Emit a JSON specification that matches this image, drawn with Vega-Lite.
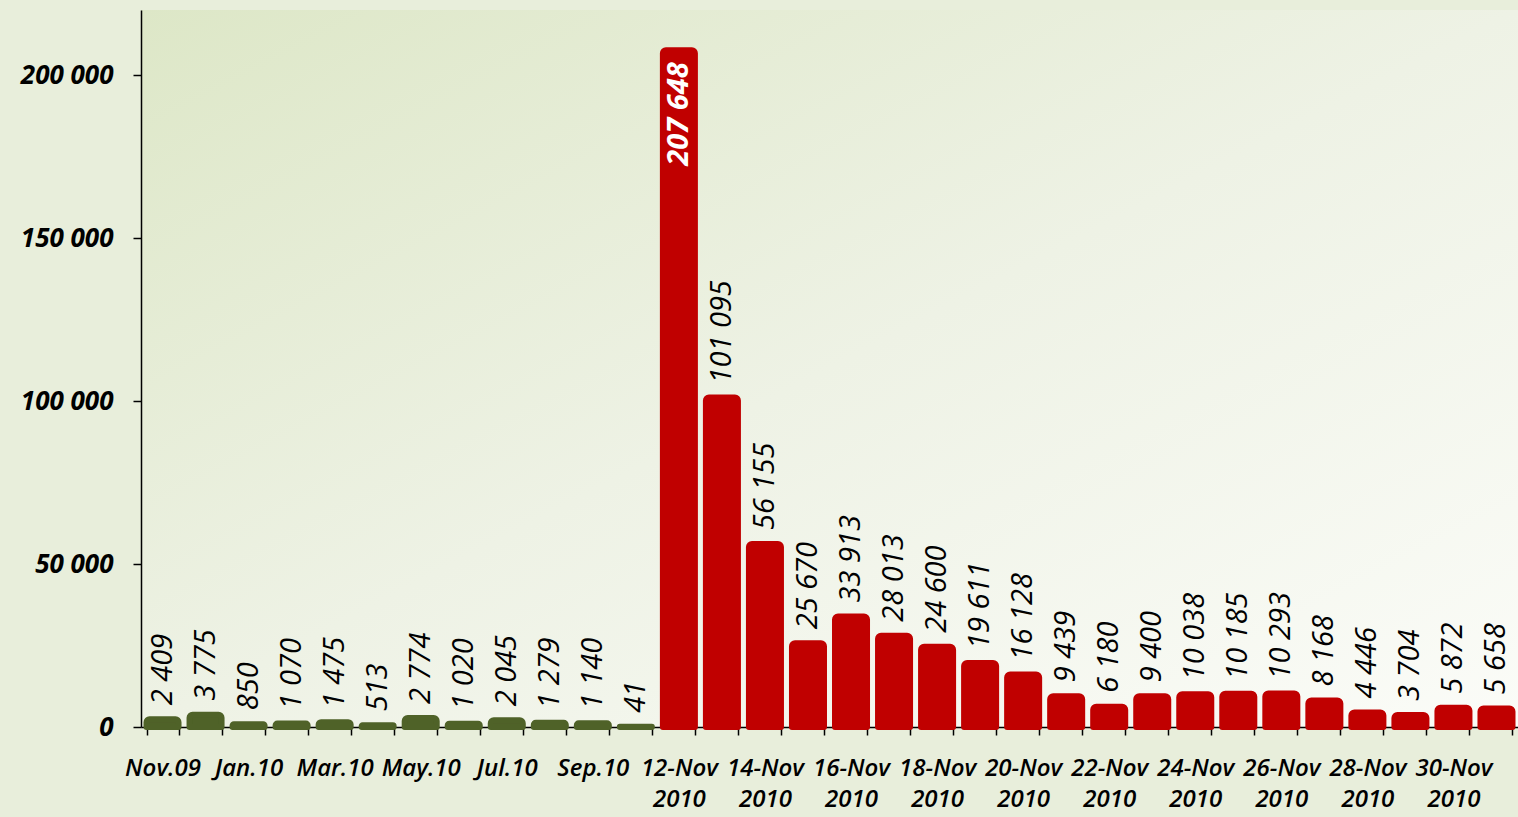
{
  "$schema": "https://vega.github.io/schema/vega-lite/v6.json",
  "width": 1377,
  "height": 717,
  "autosize": {"type": "none"},
  "padding": {"left": 141, "top": 10, "right": 0, "bottom": 90},
  "background": "#e8eedb",
  "config": {
    "locale": {"number": {"decimal": ",", "thousands": " ", "grouping": [3], "currency": ["", ""]}},
    "view": {"stroke": null, "fill": {"gradient": "linear", "x1": 0, "y1": 0, "x2": 1, "y2": 1, "stops": [{"offset": 0, "color": "#dde7c7"}, {"offset": 0.5, "color": "#eef2e5"}, {"offset": 1, "color": "#fbfcf8"}]}},
    "font": "Open Sans"
  },
  "data": {"values": [
    {"period": "Nov.09", "value": 2409, "phase": "before"},
    {"period": "Dec.09", "value": 3775, "phase": "before"},
    {"period": "Jan.10", "value": 850, "phase": "before"},
    {"period": "Feb.10", "value": 1070, "phase": "before"},
    {"period": "Mar.10", "value": 1475, "phase": "before"},
    {"period": "Apr.10", "value": 513, "phase": "before"},
    {"period": "May.10", "value": 2774, "phase": "before"},
    {"period": "Jun.10", "value": 1020, "phase": "before"},
    {"period": "Jul.10", "value": 2045, "phase": "before"},
    {"period": "Aug.10", "value": 1279, "phase": "before"},
    {"period": "Sep.10", "value": 1140, "phase": "before"},
    {"period": "Oct.10", "value": 41, "phase": "before"},
    {"period": "12-Nov 2010", "value": 207648, "phase": "after"},
    {"period": "13-Nov 2010", "value": 101095, "phase": "after"},
    {"period": "14-Nov 2010", "value": 56155, "phase": "after"},
    {"period": "15-Nov 2010", "value": 25670, "phase": "after"},
    {"period": "16-Nov 2010", "value": 33913, "phase": "after"},
    {"period": "17-Nov 2010", "value": 28013, "phase": "after"},
    {"period": "18-Nov 2010", "value": 24600, "phase": "after"},
    {"period": "19-Nov 2010", "value": 19611, "phase": "after"},
    {"period": "20-Nov 2010", "value": 16128, "phase": "after"},
    {"period": "21-Nov 2010", "value": 9439, "phase": "after"},
    {"period": "22-Nov 2010", "value": 6180, "phase": "after"},
    {"period": "23-Nov 2010", "value": 9400, "phase": "after"},
    {"period": "24-Nov 2010", "value": 10038, "phase": "after"},
    {"period": "25-Nov 2010", "value": 10185, "phase": "after"},
    {"period": "26-Nov 2010", "value": 10293, "phase": "after"},
    {"period": "27-Nov 2010", "value": 8168, "phase": "after"},
    {"period": "28-Nov 2010", "value": 4446, "phase": "after"},
    {"period": "29-Nov 2010", "value": 3704, "phase": "after"},
    {"period": "30-Nov 2010", "value": 5872, "phase": "after"},
    {"period": "1-Dec 2010", "value": 5658, "phase": "after"}
  ]},
  "encoding": {
    "x": {
      "field": "period", "type": "ordinal", "sort": null,
      "scale": {"paddingInner": 0.256, "paddingOuter": 0.128},
      "axis": {
        "title": null, "labelAngle": 0,
        "labelExpr": "test(regexp('^(Nov.09|Jan|Mar|May|Jul|Sep|[0-9]*[02468]-Nov)'), datum.value) ? split(datum.value, ' ') : ''",
        "labelOverlap": false,
        "labelFontSize": 24, "labelFontStyle": "italic", "labelFontWeight": 600,
        "labelColor": "#000000", "labelPadding": 21, "labelLineHeight": 31,
        "domainColor": "#000000", "domainWidth": 1.5,
        "tickColor": "#000000", "tickWidth": 1.5, "tickSize": 8, "tickBand": "extent"
      }
    },
    "y": {
      "field": "value", "type": "quantitative",
      "scale": {"domain": [0, 220000], "nice": false},
      "axis": {
        "title": null, "grid": false, "values": [0, 50000, 100000, 150000, 200000],
        "format": ",d",
        "labelFontSize": 26, "labelFontStyle": "italic", "labelFontWeight": "bold",
        "labelColor": "#000000", "labelPadding": 20,
        "domainColor": "#000000", "domainWidth": 1.5,
        "tickColor": "#000000", "tickWidth": 1.5, "tickSize": 8
      }
    }
  },
  "layer": [
    {
      "transform": [{"filter": "datum.phase == 'before'"}],
      "mark": {"type": "bar", "fill": "#4f6228", "stroke": "#4f6228", "strokeWidth": 6, "strokeJoin": "round", "cornerRadiusTopLeft": 3, "cornerRadiusTopRight": 3}
    },
    {
      "transform": [{"filter": "datum.phase == 'after'"}],
      "mark": {"type": "bar", "fill": "#c00000", "stroke": "#c00000", "strokeWidth": 6, "strokeJoin": "round", "cornerRadiusTopLeft": 3, "cornerRadiusTopRight": 3}
    },
    {
      "transform": [{"filter": "datum.value < 150000"}],
      "mark": {"type": "text", "angle": 270, "align": "left", "baseline": "middle", "dx": 14, "fontSize": 29, "fontStyle": "italic", "color": "#000000"},
      "encoding": {"text": {"field": "value", "type": "quantitative", "format": ",d"}}
    },
    {
      "transform": [{"filter": "datum.value >= 150000"}],
      "mark": {"type": "text", "angle": 270, "align": "right", "baseline": "middle", "dx": -12, "fontSize": 29, "fontStyle": "italic", "fontWeight": "bold", "color": "#ffffff"},
      "encoding": {"text": {"field": "value", "type": "quantitative", "format": ",d"}}
    }
  ]
}
